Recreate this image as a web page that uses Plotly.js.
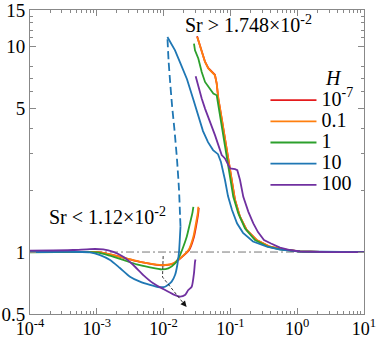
<!DOCTYPE html>
<html>
<head>
<meta charset="utf-8">
<script src="https://cdn.plot.ly/plotly-3.0.1.min.js"></script>
<style>
  html, body { margin: 0; padding: 0; background: #fff; }
  #chart { width: 380px; height: 338px; }
</style>
</head>
<body>
<div id="chart"></div>
<script>
// H values shown in the legend
var hNames = ['10<sup>-7</sup>', '0.1', '1', '10', '100'];
var hColors = ['#e41a1c', '#ff7f0e', '#2ca02c', '#1f77b4', '#7030a0'];

// low-Sr branches (solid)
var redLowX = [1e-4, 1.12e-3, 1.77e-3, 2.8e-3, 4.43e-3, 7.0e-3, 1.05e-2, 0.01397, 0.01762, 0.0240, 0.0284, 0.0311, 0.0330, 0.0336];
var redLowY = [1.003, 0.996, 0.965, 0.930, 0.895, 0.872, 0.863, 0.879, 0.930, 1.02, 1.18, 1.37, 1.54, 1.64];
var orangeLowX = [1e-4, 1.12e-3, 1.77e-3, 2.8e-3, 4.43e-3, 7.0e-3, 1.05e-2, 0.01397, 0.01762, 0.0236, 0.0279, 0.0305, 0.0324, 0.0331];
var orangeLowY = [1.003, 0.997, 0.967, 0.932, 0.897, 0.874, 0.865, 0.881, 0.932, 1.023, 1.187, 1.378, 1.541, 1.66];
var greenLowX = [1e-4, 1e-3, 1.58e-3, 2.49e-3, 3.95e-3, 6.25e-3, 9.36e-3, 0.01176, 0.01483, 0.01762, 0.01972, 0.0222, 0.0248, 0.0269, 0.0279];
var greenLowY = [0.997, 0.997, 0.96, 0.915, 0.871, 0.843, 0.824, 0.833, 0.881, 0.967, 1.061, 1.187, 1.378, 1.541, 1.66];
var blueLowX = [1e-4, 7.9e-4, 1.12e-3, 1.58e-3, 2.22e-3, 3.14e-3, 4.43e-3, 6.25e-3, 8.24e-3, 1.05e-2, 0.0132, 0.01483, 0.01604, 0.01702, 0.01762, 0.0179];
var blueLowY = [1.0, 0.997, 0.967, 0.915, 0.836, 0.759, 0.718, 0.692, 0.676, 0.678, 0.718, 0.773, 0.865, 1.003, 1.209, 1.33];
var purpleLowX = [1e-4, 4.4e-4, 7.9e-4, 1.25e-3, 1.77e-3, 2.49e-3, 3.52e-3, 4.97e-3, 7.0e-3, 9.9e-3, 0.01397, 0.01762, 0.0209, 0.02344, 0.02635, 0.0285, 0.0295, 0.0300];
var purpleLowY = [1.015, 1.023, 1.034, 1.031, 1.003, 0.949, 0.865, 0.773, 0.705, 0.661, 0.623, 0.607, 0.618, 0.654, 0.678, 0.788, 0.894, 0.92];

// unstable branch for H = 10 (dashed)
var blueMidX = [0.0179, 0.01762, 0.01702, 0.01589, 0.01456, 0.01337, 0.01247, 0.01186, 0.0114];
var blueMidY = [1.33, 1.51, 2.0, 2.80, 3.91, 5.17, 6.84, 8.55, 11.1];

// high-Sr branches (solid)
var redHighX = [0.0317, 0.0370, 0.0415, 0.0465, 0.0523, 0.0586, 0.0622, 0.0658, 0.0739, 0.0828, 0.0928, 0.1044, 0.1170, 0.1390, 0.1750, 0.2470, 0.392, 0.612, 1.10, 3.1, 10];
var redHighY = [11.2, 9.45, 8.45, 7.85, 7.55, 7.27, 6.63, 5.60, 4.48, 3.55, 2.87, 2.25, 1.80, 1.486, 1.280, 1.145, 1.061, 1.030, 1.007, 1.0, 1.0];
var orangeHighX = [0.0319, 0.0372, 0.0417, 0.0467, 0.0525, 0.0588, 0.0624, 0.0660, 0.0741, 0.0830, 0.0930, 0.1046, 0.1172, 0.1393, 0.1754, 0.2475, 0.392, 0.612, 1.10, 3.1, 10];
var orangeHighY = [11.09, 9.38, 8.39, 7.80, 7.50, 7.23, 6.59, 5.57, 4.46, 3.54, 2.86, 2.24, 1.79, 1.484, 1.279, 1.144, 1.061, 1.030, 1.007, 1.0, 1.0];
var greenHighX = [0.0285, 0.0295, 0.0331, 0.0372, 0.0417, 0.0495, 0.0555, 0.0624, 0.0660, 0.0698, 0.0783, 0.0881, 0.0986, 0.1105, 0.1313, 0.1656, 0.2335, 0.3656, 0.553, 1.10, 3.1, 10];
var greenHighY = [10.31, 9.56, 8.72, 7.50, 6.71, 6.23, 5.89, 5.78, 5.17, 4.52, 3.62, 2.90, 2.32, 1.855, 1.541, 1.303, 1.144, 1.061, 1.030, 1.006, 1.0, 1.0];
var blueHighX = [0.0114, 0.01483, 0.01762, 0.0224, 0.0275, 0.0316, 0.0351, 0.0389, 0.0462, 0.055, 0.0652, 0.0722, 0.083, 0.092, 0.1057, 0.1256, 0.1545, 0.218, 0.353, 0.553, 1.10, 3.1, 10];
var blueHighY = [11.1, 9.56, 8.36, 6.92, 5.59, 4.78, 4.32, 3.87, 3.42, 3.13, 2.99, 2.74, 2.24, 1.87, 1.60, 1.38, 1.24, 1.125, 1.063, 1.028, 1.006, 1.0, 1.0];
var purpleHighX = [0.0302, 0.0331, 0.0372, 0.0417, 0.0467, 0.0525, 0.0588, 0.0660, 0.0741, 0.083, 0.093, 0.0986, 0.1172, 0.1268, 0.1393, 0.156, 0.1853, 0.2203, 0.2588, 0.3184, 0.4055, 0.553, 0.78, 1.10, 3.1, 10];
var purpleHighY = [7.15, 6.35, 5.57, 4.98, 4.54, 4.14, 3.70, 3.31, 2.96, 2.85, 2.64, 2.55, 2.53, 2.50, 2.24, 1.855, 1.573, 1.378, 1.25, 1.144, 1.10, 1.051, 1.023, 1.006, 1.0, 1.0];

// reference level and the dashed arrow path
var refX = [1e-4, 10];
var refY = [1, 1];
var arrowX = [0.00985, 0.00963, 0.0200, 0.0221];
var arrowY = [0.956, 0.756, 0.562, 0.541];

var serif = 'Liberation Serif, Times New Roman, serif';
var traces = [];

traces.push({
  x: refX, y: refY, mode: 'lines', showlegend: false, hoverinfo: 'skip',
  line: { color: '#555', width: 0.8, dash: '8px,3px,2px,3px' }
});

var lows = [[redLowX, redLowY], [orangeLowX, orangeLowY], [greenLowX, greenLowY], [blueLowX, blueLowY], [purpleLowX, purpleLowY]];
var highs = [[redHighX, redHighY], [orangeHighX, orangeHighY], [greenHighX, greenHighY], [blueHighX, blueHighY], [purpleHighX, purpleHighY]];

for (var i = 0; i < hNames.length; i++) {
  traces.push({
    x: lows[i][0], y: lows[i][1], mode: 'lines', line: { color: hColors[i], width: 1.8, shape: 'spline', smoothing: 0.6 },
    name: '<span style="font-size:20px">' + hNames[i] + '</span>', legendgroup: 'h' + i, showlegend: true
  });
  traces.push({
    x: highs[i][0], y: highs[i][1], mode: 'lines', line: { color: hColors[i], width: 1.8 },
    legendgroup: 'h' + i, showlegend: false
  });
  if (i == 3) {
    traces.push({
      x: blueMidX, y: blueMidY, mode: 'lines', line: { color: hColors[i], width: 1.8, dash: '8px,4px', shape: 'spline', smoothing: 0.6 },
      legendgroup: 'h' + i, showlegend: false
    });
  }
}

traces.push({
  x: arrowX.slice(0, 3), y: arrowY.slice(0, 3), mode: 'lines', showlegend: false, hoverinfo: 'skip',
  line: { color: '#222', width: 0.9, dash: '3px,2px' }
});

// minor tick positions
var xMinor = [];
for (var d = -4; d < 1; d++) {
  for (var m = 2; m < 10; m++) xMinor.push(m * Math.pow(10, d));
}
var yMinor = [2, 3, 4, 6, 7, 8, 11, 12, 13, 14];

var axisCommon = {
  showline: true, linecolor: '#888', linewidth: 1, mirror: 'ticks',
  ticks: 'inside', ticklen: 6, tickcolor: '#888', tickwidth: 1,
  showgrid: false, zeroline: false, ticklabeloverflow: 'allow'
};

var layout = {
  width: 380, height: 338,
  margin: { l: 30, r: 16, t: 10, b: 24 },
  paper_bgcolor: '#fff', plot_bgcolor: '#fff',
  font: { family: serif, color: '#000' },
  xaxis: Object.assign({}, axisCommon, {
    type: 'log', range: [-4, 1],
    tickmode: 'array',
    tickvals: [1e-4, 1e-3, 1e-2, 1e-1, 1, 10],
    ticktext: ['10<sup>-4</sup>', '10<sup>-3</sup>', '10<sup>-2</sup>', '10<sup>-1</sup>', '10<sup>0</sup>', '10<sup>1</sup>'],
    tickfont: { family: serif, size: 18, color: '#000' },
    ticklabelstandoff: -2,
    minor: { tickmode: 'array', tickvals: xMinor, ticks: 'inside', ticklen: 3, tickcolor: '#888' }
  }),
  yaxis: Object.assign({}, axisCommon, {
    type: 'log', range: [Math.log10(0.4999), Math.log10(15.01)],
    tickmode: 'array',
    tickvals: [0.5, 1, 5, 10, 15],
    ticktext: ['0.5', '1', '5', '10', '15'],
    tickfont: { family: serif, size: 19, color: '#000' },
    minor: { tickmode: 'array', tickvals: yMinor, ticks: 'inside', ticklen: 3, tickcolor: '#888' }
  }),
  legend: {
    x: 0.705, y: 0.755, xanchor: 'left', yanchor: 'top',
    bgcolor: 'rgba(0,0,0,0)', borderwidth: 0,
    font: { family: serif, size: 14, color: '#000' },
    itemwidth: 46, tracegroupgap: 0
  },
  annotations: [
    { xref: 'paper', yref: 'paper', x: 0.458, y: 0.955, xanchor: 'left', yanchor: 'middle', showarrow: false,
      text: 'Sr > 1.748×10<sup>-2</sup>', font: { family: serif, size: 20, color: '#000' } },
    { xref: 'paper', yref: 'paper', x: 0.051, y: 0.322, xanchor: 'left', yanchor: 'middle', showarrow: false,
      text: 'Sr < 1.12×10<sup>-2</sup>', font: { family: serif, size: 20, color: '#000' } },
    { xref: 'paper', yref: 'paper', x: 0.877, y: 0.776, xanchor: 'left', yanchor: 'middle', showarrow: false,
      text: '<i>H</i>', font: { family: serif, size: 20, color: '#000' } },
    { xref: 'x', yref: 'y', axref: 'x', ayref: 'y',
      x: Math.log10(arrowX[3]), y: Math.log10(arrowY[3]),
      ax: Math.log10(arrowX[2]), ay: Math.log10(arrowY[2]),
      showarrow: true, arrowhead: 2, arrowsize: 1.2, arrowwidth: 1, arrowcolor: '#111', text: '' }
  ]
};

Plotly.newPlot('chart', traces, layout, { displayModeBar: false, staticPlot: true });
</script>
</body>
</html>
